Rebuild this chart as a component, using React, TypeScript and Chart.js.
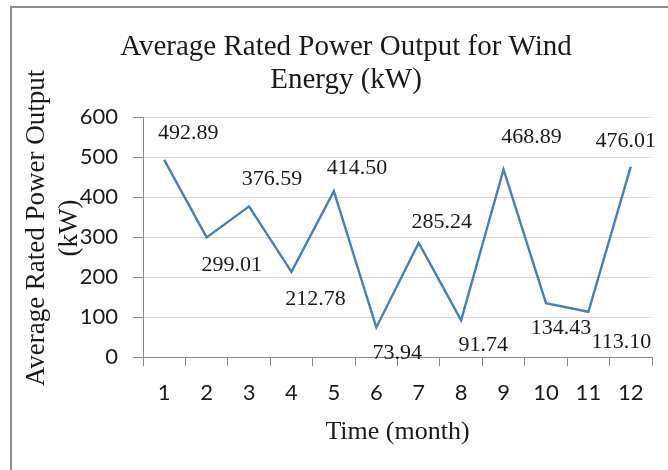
import React, { useEffect, useRef } from 'react';
import { Chart, registerables } from 'chart.js';

Chart.register(...registerables);

// ---------- data ----------
const months = ['1', '2', '3', '4', '5', '6', '7', '8', '9', '10', '11', '12'];
const ratedPowerKW = [492.89, 299.01, 376.59, 212.78, 414.5, 73.94, 285.24, 91.74, 468.89, 134.43, 113.1, 476.01];
const yTickValues = [0, 100, 200, 300, 400, 500, 600];
const chartTitle = ['Average Rated Power Output for Wind', 'Energy (kW)'];
const yAxisTitle = ['Average Rated Power Output', '(kW)'];
const xAxisTitle = 'Time (month)';

// ---------- style ----------
const labelDx = [24, 25, 23, 24, 23, 21, 23, 22, 28, 15, 33, -5];
const labelDy = [-27, 28, -27, 27, -23, 26, -21, 25, -32, 25, 30, -25];
const SERIF = '"Liberation Serif", "Times New Roman", serif';
const SANS = 'Lato, Carlito, Calibri, "Open Sans", sans-serif';
const AXIS_GRAY = '#868686';
const GRID_GRAY = '#d9d9d9';
const LINE_BLUE = '#4a7ebb';
const TEXT = '#1a1a1a';

const customPlugin = {
  id: 'customDecor',
  beforeDraw(chart: any) {
    const ctx = chart.ctx;
    ctx.save();
    ctx.fillStyle = '#ffffff';
    ctx.fillRect(0, 0, chart.width, chart.height);
    ctx.strokeStyle = '#8c8c8c';
    ctx.lineWidth = 2;
    ctx.beginPath();
    ctx.moveTo(11, chart.height);
    ctx.lineTo(11, 7);
    ctx.lineTo(chart.width, 7);
    ctx.stroke();
    ctx.restore();
  },
  afterDatasetsDraw(chart: any) {
    const ctx = chart.ctx;
    const meta = chart.getDatasetMeta(0);
    const data = chart.data.datasets[0].data as number[];
    ctx.save();
    ctx.font = `22px ${SERIF}`;
    ctx.fillStyle = TEXT;
    ctx.textAlign = 'center';
    ctx.textBaseline = 'middle';
    meta.data.forEach((pt: any, i: number) => {
      ctx.fillText(data[i].toFixed(2), pt.x + labelDx[i], pt.y + labelDy[i]);
    });
    ctx.restore();
  },
  afterDraw(chart: any) {
    const ctx = chart.ctx;
    const area = chart.chartArea;
    ctx.save();
    ctx.fillStyle = TEXT;
    ctx.textAlign = 'center';
    ctx.textBaseline = 'middle';

    // chart title
    ctx.font = `29px ${SERIF}`;
    const titleCx = 346;
    const titleYs = [47, 80];
    chartTitle.forEach((line, i) => ctx.fillText(line, titleCx, titleYs[i]));

    // y axis title
    const cy = (area.top + area.bottom) / 2 - 9;
    ctx.font = `27px ${SERIF}`;
    const xs = [37, 70];
    yAxisTitle.forEach((line, i) => {
      ctx.save();
      ctx.translate(xs[i], cy);
      ctx.rotate(-Math.PI / 2);
      ctx.fillText(line, 0, 0);
      ctx.restore();
    });
    ctx.restore();
  },
};

export default function App() {
  const canvasRef = useRef<HTMLCanvasElement | null>(null);

  useEffect(() => {
    document.body.style.margin = '0';
    const canvas = canvasRef.current;
    if (!canvas) return;
    const chart = new Chart(canvas, {
      type: 'line',
      data: {
        labels: months,
        datasets: [
          {
            data: ratedPowerKW,
            borderColor: LINE_BLUE,
            backgroundColor: LINE_BLUE,
            borderWidth: 2.4,
            pointRadius: 0,
            pointHoverRadius: 0,
            tension: 0,
            fill: false,
          },
        ],
      },
      options: {
        animation: false,
        responsive: false,
        maintainAspectRatio: false,
        devicePixelRatio: 1,
        layout: { padding: { left: 0, right: 16, top: 117, bottom: 0 } },
        plugins: {
          legend: { display: false },
          tooltip: { enabled: false },
          title: { display: false },
        },
        scales: {
          x: {
            type: 'category',
            offset: true,
            grid: {
              display: true,
              drawOnChartArea: false,
              drawTicks: true,
              tickLength: 9,
              color: AXIS_GRAY,
              offset: true,
            },
            border: { display: true, color: AXIS_GRAY, width: 1 },
            ticks: {
              color: TEXT,
              font: { family: SANS, size: 22 },
              padding: 14,
              maxRotation: 0,
              autoSkip: false,
            },
            title: {
              display: true,
              text: xAxisTitle,
              color: TEXT,
              font: { family: SERIF, size: 26, lineHeight: 1.2 },
              padding: { top: 0, bottom: 22.4 },
            },
            afterFit(scale: any) {
              scale.height = 113;
            },
          },
          y: {
            min: 0,
            max: 600,
            afterBuildTicks(scale: any) {
              scale.ticks = yTickValues.map((v) => ({ value: v }));
            },
            grid: {
              color: GRID_GRAY,
              lineWidth: 1,
              tickColor: AXIS_GRAY,
              tickLength: 10,
              drawTicks: true,
            },
            border: { display: true, color: AXIS_GRAY, width: 1 },
            ticks: {
              color: TEXT,
              font: { family: SANS, size: 22 },
              padding: 15,
            },
            title: { display: false },
            afterFit(scale: any) {
              scale.width = 143;
            },
          },
        },
      },
      plugins: [customPlugin],
    });
    return () => chart.destroy();
  }, []);

  return (
    <div style={{ position: 'absolute', left: 0, top: 0, width: 668, height: 470 }}>
      <canvas ref={canvasRef} width={668} height={470} style={{ width: 668, height: 470, display: 'block' }} />
    </div>
  );
}
